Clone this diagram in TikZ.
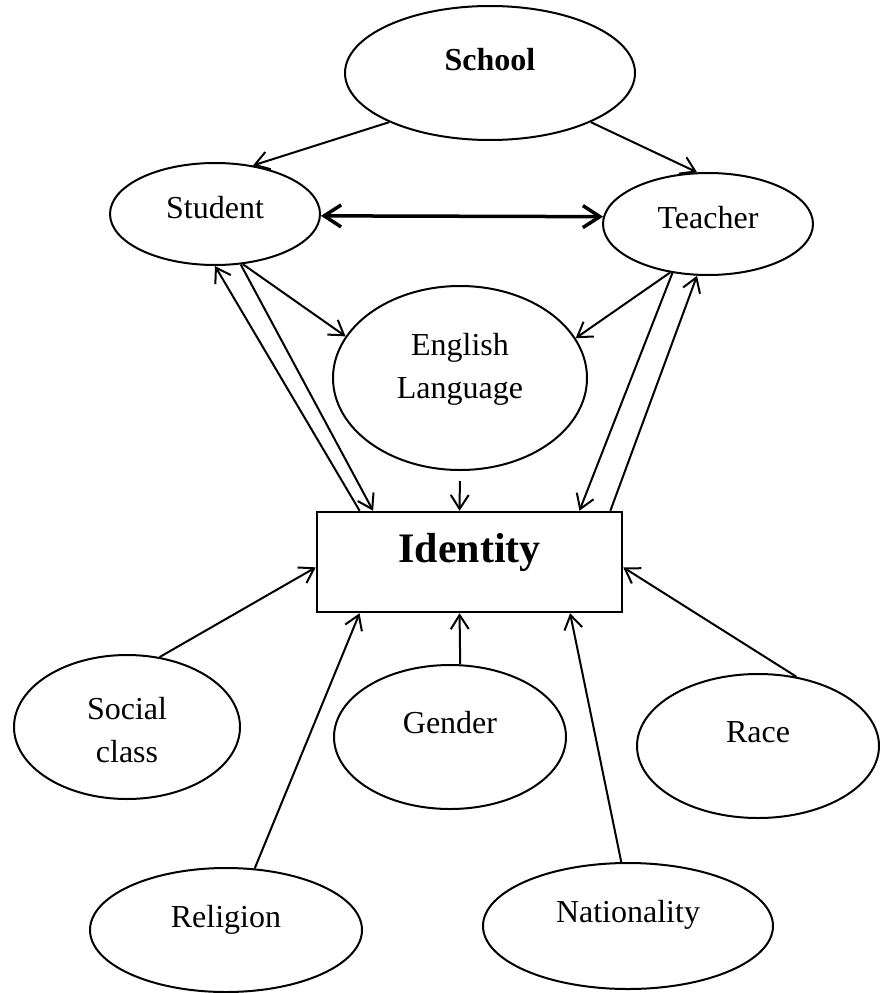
\documentclass[tikz,border=0pt]{standalone}
\usepackage{fontspec}
\setmainfont{Liberation Serif}
\usetikzlibrary{shapes.geometric, arrows.meta}

\begin{document}
\begin{tikzpicture}[x=1pt, y=-1pt]
\tikzstyle{bulle}=[draw, ellipse, line width=2pt, inner sep=0pt, text height=22pt, font=\fontsize{32}{43}\selectfont];
\tikzstyle{cadre}=[draw, rectangle, line width=2.5pt, inner sep=0pt, text height=30pt, font=\fontsize{42}{50}\selectfont\bfseries];
\tikzstyle{fleche}=[-{Straight Barb[length=14pt, width=18pt]}, line width=2pt];
\tikzstyle{lien}=[{Straight Barb[length=17pt, width=22pt]}-{Straight Barb[length=17pt, width=22pt]}, line width=3.5pt];
\useasboundingbox (0,0) rectangle (879,993);

\node[bulle, minimum width=290pt, minimum height=134pt, text depth=26.8pt, font=\fontsize{32}{43}\selectfont\bfseries] (school) at (490,73) {School};
\node[bulle, minimum width=210pt, minimum height=102pt, text depth=12.8pt] (student) at (215,214) {Student};
\node[bulle, minimum width=210pt, minimum height=102pt, text depth=12.8pt] (teacher) at (708,224) {Teacher};
\node[bulle, minimum width=254pt, minimum height=184pt, text height=65pt, text depth=24.8pt, align=center] (english) at (460,378) {English\\Language};
\node[cadre, minimum width=305pt, minimum height=100pt, text depth=28.6pt] (identity) at (469.5,562) {Identity};
\node[bulle, minimum width=226pt, minimum height=144pt, text height=75pt, text depth=4.8pt, align=center] (social) at (127,727) {Social\\class};
\node[bulle, minimum width=232pt, minimum height=144pt, text depth=28.8pt] (gender) at (450,737) {Gender};
\node[bulle, minimum width=242pt, minimum height=144pt, text depth=28.8pt] (race) at (758,746) {Race};
\node[bulle, minimum width=272pt, minimum height=124pt, text depth=26.8pt] (religion) at (226,930) {Religion};
\node[bulle, minimum width=290pt, minimum height=126pt, text depth=28.8pt] (nationality) at (628,926) {Nationality};

\draw[fleche] (school.206) -- (student.52);
\draw[fleche] (school.-26) -- (teacher.102);
\draw[lien] (student.-1) -- (teacher.176);

\draw[fleche] (student.-61) -- (english.160);
\draw[fleche] (teacher.-128) -- (english.19);
\draw[fleche] (student.-63) -- (identity.152);
\draw[fleche] (identity.155) -- (student.south);
\draw[fleche, shorten <=10pt] (english.south) -- (identity.101);
\draw[fleche] (teacher.-126) -- (identity.25);
\draw[fleche] (identity.20) -- (teacher.-102);

\draw[fleche] (social.65) -- (identity.182);
\draw[fleche] (religion.65) -- (identity.205);
\draw[fleche] (gender.82) -- (identity.259);
\draw[fleche] (nationality.96) -- (identity.-27);
\draw[fleche] (race.61) -- (identity.-2);
\end{tikzpicture}
\end{document}
